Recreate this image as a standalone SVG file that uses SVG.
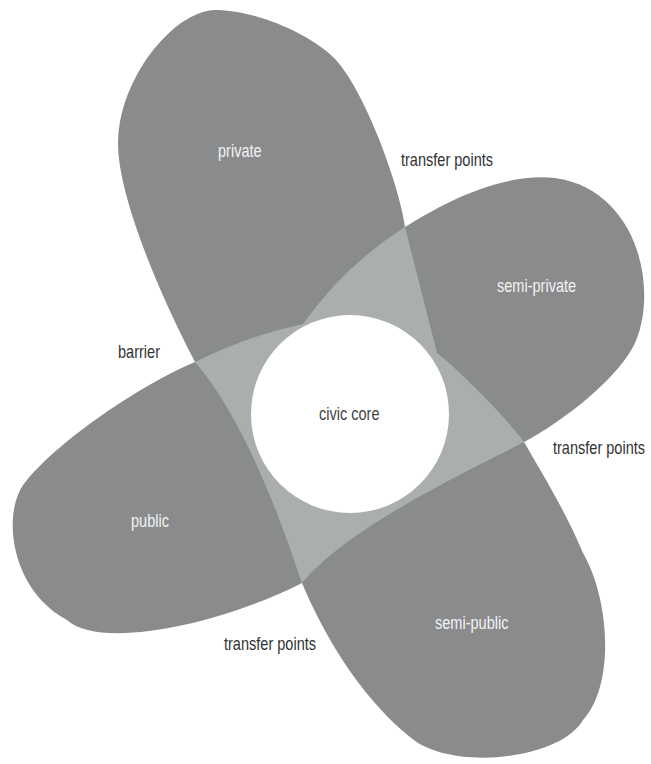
<svg xmlns="http://www.w3.org/2000/svg" width="651" height="764" viewBox="0 0 651 764">
<style>
.petal{fill:#8a8b8d}
.overlap{fill:#abaeaf}
.core{fill:#ffffff}
.lbl{font-family:"Liberation Sans",Arial,sans-serif;font-size:17.5px}
.in{fill:#f2f2f2}
.out{fill:#333333}
.corelbl{fill:#444444}
</style>
<rect width="651" height="764" fill="#ffffff"/>
<g id="private">
<path class="petal" d="M405,227 C398,180 362,85 333,57 C308,33 255,10 215,10 C173,11 118,80 118,143 C118,200 165,305 195,362 L350,414 Z"/>
</g>
<g id="public">
<path class="petal" d="M195,362 C140,385 60,440 27,480 C0,510 10,590 67,620 C100,650 220,625 302,583 L350,414 Z"/>
</g>
<g id="semi-public">
<path class="petal" d="M302,583 C330,650 370,705 410,737 C450,772 560,760 583,720 C615,685 610,600 583,553 C565,510 540,470 524,442 L350,414 Z"/>
</g>
<g id="semi-private">
<path class="petal" d="M524,442 C565,420 615,380 633,347 C660,295 640,190 555,178 C500,172 440,205 405,227 L350,414 Z"/>
</g>
<g id="overlaps">
<path class="overlap" d="M405,227 Q421,290 437,353 C455,367 500,410 524,442 C480,465 350,525 302,583 C290,548 250,425 195,362 Q250,335 303,324 Q345,265 405,227 Z"/>
</g>
<g id="civic-core">
<circle class="core" cx="350" cy="414" r="99"/>
<text class="lbl corelbl" transform="translate(319,420) scale(0.83,1)">civic core</text>
</g>
<g id="labels">
<text class="lbl in" transform="translate(218,157) scale(0.83,1)">private</text>
<text class="lbl in" transform="translate(497,292) scale(0.83,1)">semi-private</text>
<text class="lbl in" transform="translate(131,527) scale(0.83,1)">public</text>
<text class="lbl in" transform="translate(435,629) scale(0.83,1)">semi-public</text>
<text class="lbl out" transform="translate(401,166) scale(0.83,1)">transfer points</text>
<text class="lbl out" transform="translate(553,454) scale(0.83,1)">transfer points</text>
<text class="lbl out" transform="translate(224,650) scale(0.83,1)">transfer points</text>
<text class="lbl out" transform="translate(118,358) scale(0.83,1)">barrier</text>
</g>
</svg>
